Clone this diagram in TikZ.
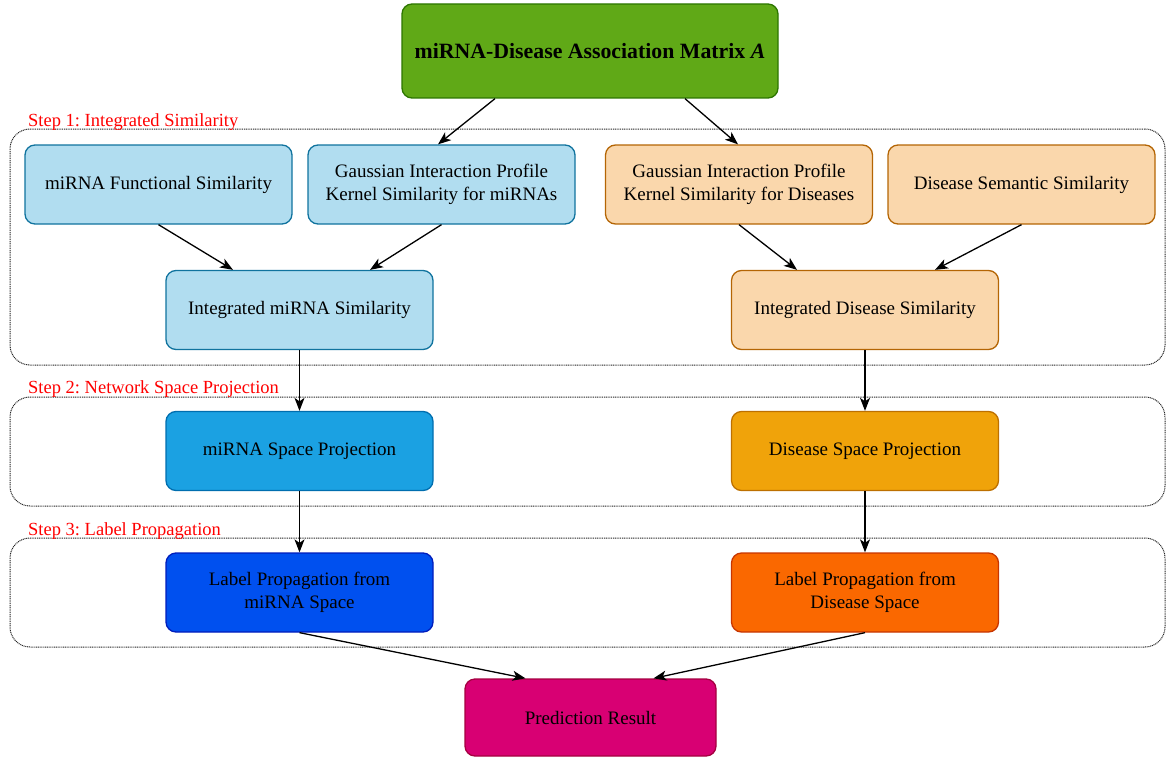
\documentclass[tikz,border=0pt]{standalone}
\usepackage{fontspec}
\setmainfont{Liberation Serif}
\frenchspacing
\usetikzlibrary{arrows.meta}
\definecolor{grnF}{HTML}{60A917}\definecolor{grnD}{HTML}{2D7600}
\definecolor{lbF}{HTML}{B1DDF0}\definecolor{lbD}{HTML}{10739E}
\definecolor{loF}{HTML}{FAD7AC}\definecolor{loD}{HTML}{B46504}
\definecolor{mbF}{HTML}{1BA1E2}\definecolor{mbD}{HTML}{006EAF}
\definecolor{moF}{HTML}{F0A30A}\definecolor{moD}{HTML}{BD7000}
\definecolor{dbF}{HTML}{0050EF}\definecolor{dbD}{HTML}{001DBC}
\definecolor{doF}{HTML}{FA6800}\definecolor{doD}{HTML}{C73500}
\definecolor{pkF}{HTML}{D80073}\definecolor{pkD}{HTML}{A50040}
\tikzset{
  box/.style={rectangle, rounded corners=10pt, draw, line width=1.3pt,
    minimum width=267pt, minimum height=79pt, align=center, inner sep=2pt,
    font=\fontsize{19}{22.5}\selectfont, text=black},
  arr/.style={-{Stealth[length=13pt,width=10pt,inset=3.5pt]}, line width=1.3pt},
  stepbox/.style={draw=black!85, dash pattern=on 1pt off 0.8pt, line width=1pt, rounded corners=20pt, inner sep=0pt},
  steplabel/.style={text=red, font=\fontsize{18.5}{21}\selectfont, anchor=base west, inner sep=0pt}
}
\begin{document}
\begin{tikzpicture}[x=1pt,y=-1pt]
\useasboundingbox (0,0) rectangle (1166,757);
% step containers
\node[stepbox, minimum width=1155pt, minimum height=236pt] (s1) at (587.5,247) {};
\node[stepbox, minimum width=1155pt, minimum height=109pt] (s2) at (587.5,451.5) {};
\node[stepbox, minimum width=1155pt, minimum height=109pt] (s3) at (587.5,592.5) {};
\node[steplabel] (l1) at (28,127) {Step 1: Integrated Similarity};
\node[steplabel] (l2) at (28,393) {Step 2: Network Space Projection};
\node[steplabel] (l3) at (28,535) {Step 3: Label Propagation};
% nodes
\node[box, fill=grnF, draw=grnD, minimum width=376pt, minimum height=94pt,
  font=\fontsize{21.8}{25}\selectfont\bfseries] (A) at (590,51) {miRNA-Disease Association Matrix \textit{A}};
\node[box, fill=lbF, draw=lbD] (f1) at (158.5,184.5) {miRNA Functional Similarity};
\node[box, fill=lbF, draw=lbD] (g1) at (441.5,184.5) {Gaussian Interaction Profile\\Kernel Similarity for miRNAs};
\node[box, fill=loF, draw=loD] (g2) at (739,184.5) {Gaussian Interaction Profile\\Kernel Similarity for Diseases};
\node[box, fill=loF, draw=loD] (ds) at (1021.5,184.5) {Disease Semantic Similarity};
\node[box, fill=lbF, draw=lbD] (im) at (299.5,310) {Integrated miRNA Similarity};
\node[box, fill=loF, draw=loD] (id) at (865,310) {Integrated Disease Similarity};
\node[box, fill=mbF, draw=mbD] (ms) at (299.5,451) {miRNA Space Projection};
\node[box, fill=moF, draw=moD] (dsp) at (865,451) {Disease Space Projection};
\node[box, fill=dbF, draw=dbD] (lm) at (299.5,592.5) {Label Propagation from\\miRNA Space};
\node[box, fill=doF, draw=doD] (ld) at (865,592.5) {Label Propagation from\\Disease Space};
\node[box, fill=pkF, draw=pkD, minimum width=251pt, minimum height=77pt] (pr) at (590.5,717.5) {Prediction Result};
% connectors
\draw[arr] ([xshift=-95pt]A.south) -- ([xshift=-3.5pt]g1.north);
\draw[arr] ([xshift=95pt]A.south) -- ([xshift=-1pt]g2.north);
\draw[arr] (f1.south) -- ([xshift=-66.5pt]im.north);
\draw[arr] (g1.south) -- ([xshift=70.5pt]im.north);
\draw[arr] (g2.south) -- ([xshift=-68pt]id.north);
\draw[arr] (ds.south) -- ([xshift=70pt]id.north);
\draw[arr] (im.south) -- (ms.north);
\draw[arr] (id.south) -- (dsp.north);
\draw[arr] (ms.south) -- (lm.north);
\draw[arr] (dsp.south) -- (ld.north);
\draw[arr] (lm.south) -- ([xshift=-65pt]pr.north);
\draw[arr] (ld.south) -- ([xshift=63pt]pr.north);
\end{tikzpicture}
\end{document}
